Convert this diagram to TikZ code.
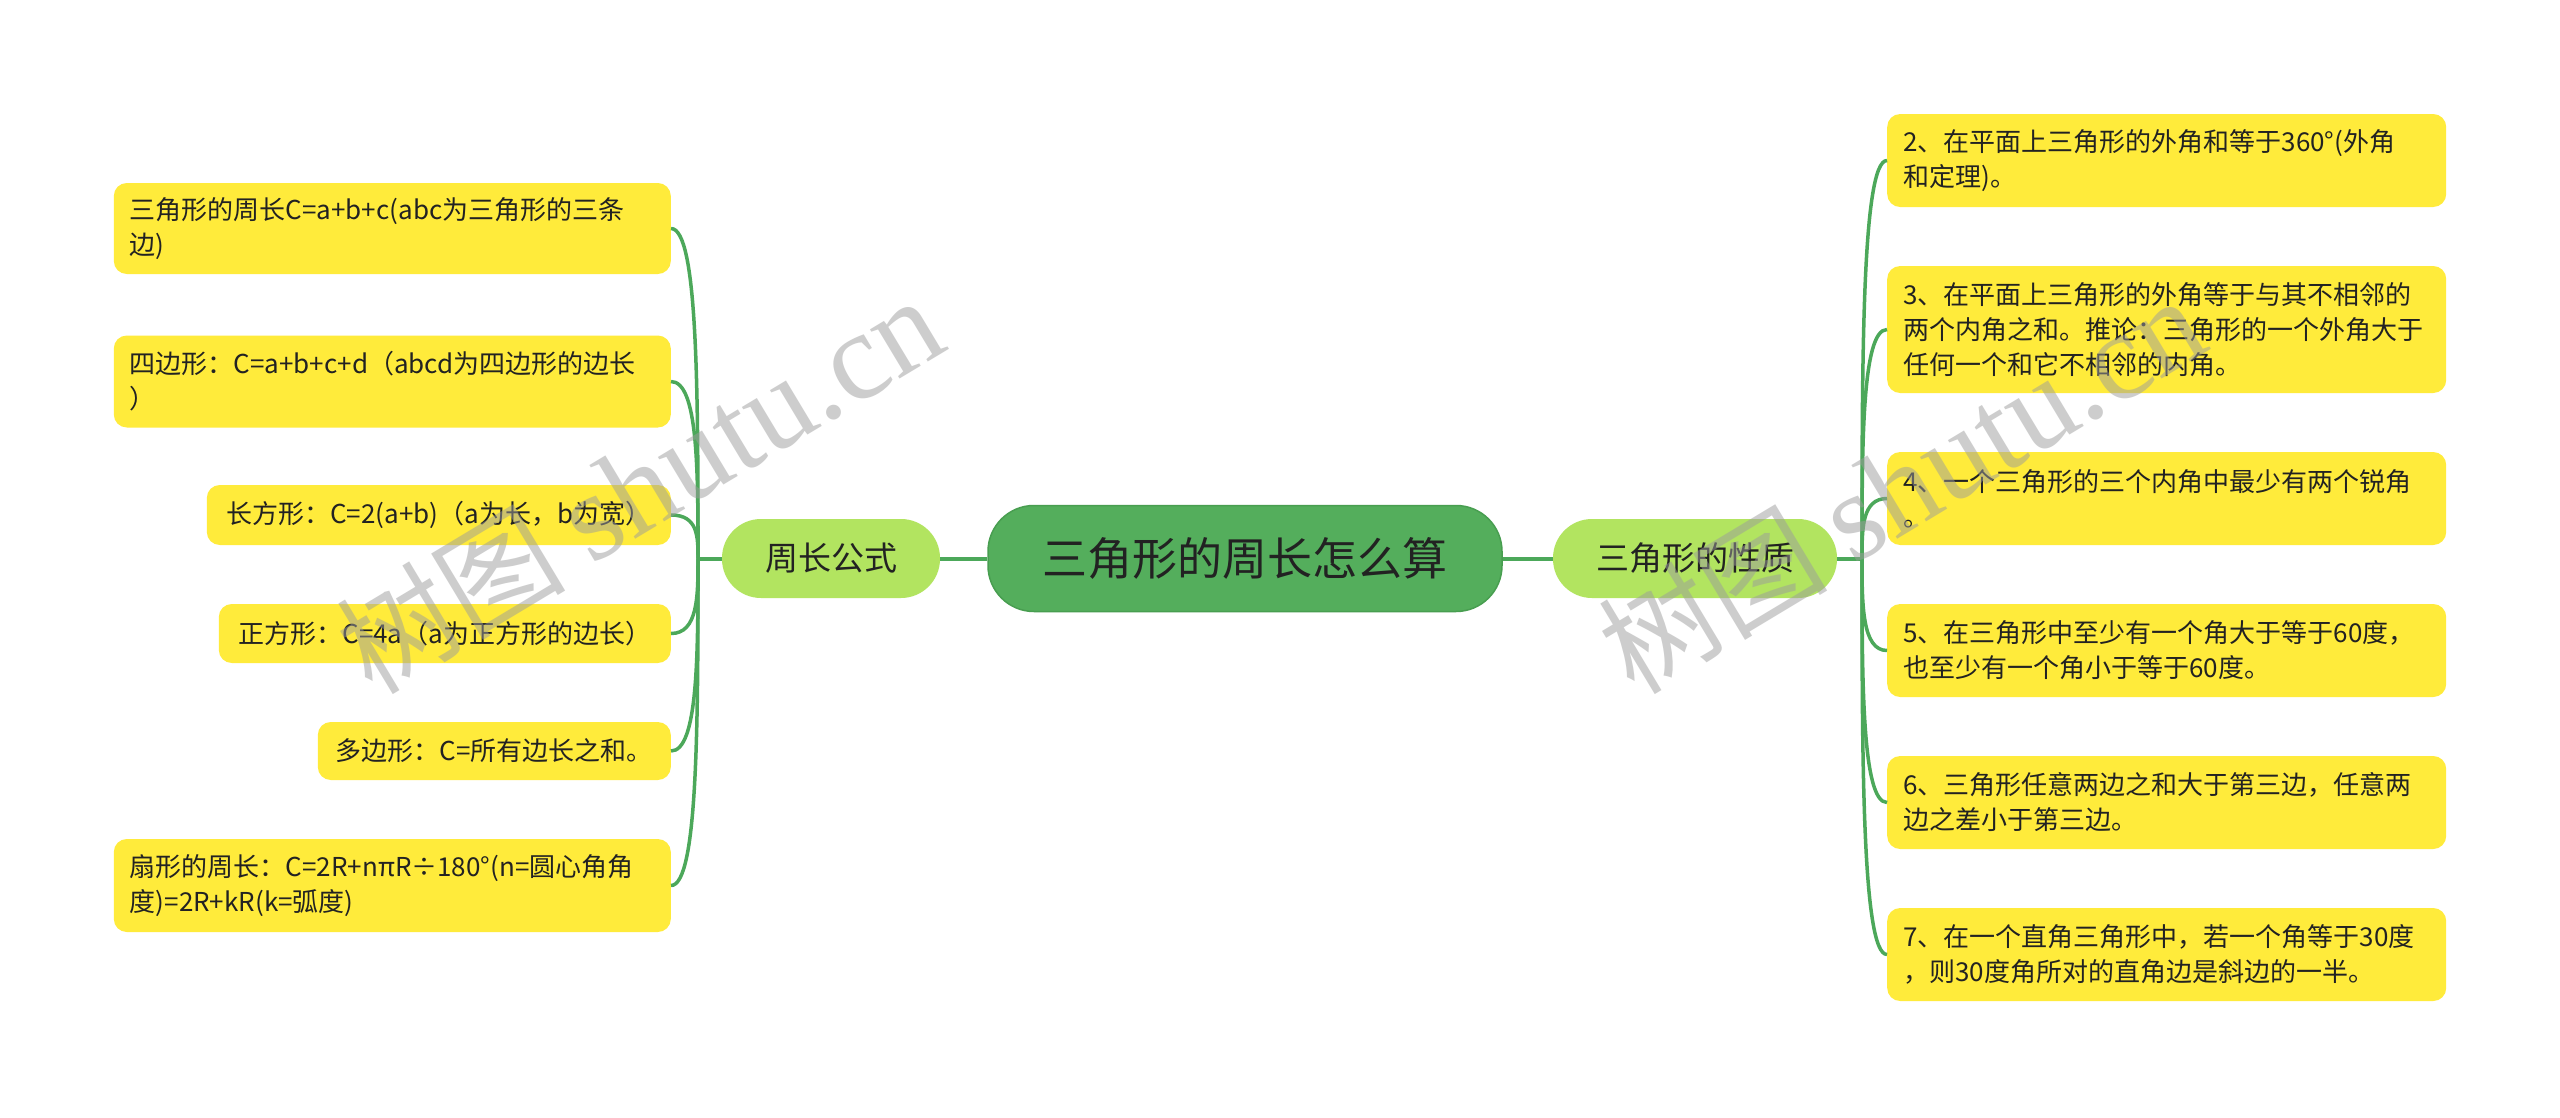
\documentclass[tikz,border=0pt]{standalone}
\usepackage{fontspec}
\newfontfamily\cjk{Noto Sans CJK SC}
\newfontfamily\marca{Liberation Serif}
\usetikzlibrary{calc}
\definecolor{amarillo}{HTML}{FFEB3B}
\definecolor{verderaiz}{HTML}{54AE5C}
\definecolor{bordeaiz}{HTML}{489E50}
\definecolor{verderama}{HTML}{B2E460}
\definecolor{verdelinea}{HTML}{4CA85A}
\definecolor{texto}{HTML}{222222}
\definecolor{gris}{HTML}{9C9C9C}
\tikzset{
	hoja/.style={fill=amarillo, rounded corners=13pt, text=texto, font=\cjk\fontsize{26}{35}\selectfont, align=left, inner xsep=16pt, inner ysep=0pt},
	rama/.style={fill=verderama, rounded corners=39pt, text=texto, font=\cjk\fontsize{33}{40}\selectfont, minimum height=79pt, inner xsep=0pt},
	raiz/.style={fill=verderaiz, draw=bordeaiz, line width=1.5pt, rounded corners=46pt, text=texto, font=\cjk\fontsize{45}{54}\selectfont, minimum height=106pt, minimum width=514pt},
	enlace/.style={draw=verdelinea, line width=4pt},
	marcaagua/.style={text=gris, text opacity=0.5, rotate=31, anchor=base west, inner sep=0pt, font=\cjk\fontsize{115}{115}\selectfont}
}
\begin{document}
\begin{tikzpicture}[x=1pt, y=-1pt]
		% Fondo
			\fill[white] (0,0) rectangle (2560,1117);
			\useasboundingbox (0,0) rectangle (2560,1117);
		% Centro y ramas
			\node[raiz] (raiz) at (1245,558.5) {三角形的周长怎么算};
			\node[rama, minimum width=218pt] (formulas) at (831,558.5) {周长公式};
			\node[rama, minimum width=284pt] (propiedades) at (1695,558.5) {三角形的性质};
			\coordinate (jl) at (698,558.5);
			\coordinate (jr) at (1862,558.5);
		% Hojas
			% Izquierda
				\node[hoja, anchor=east, text width=525pt, minimum height=91pt] (l1) at (671,228.5) {三角形的周长C=a+b+c(abc为三角形的三条\\边)};
				\node[hoja, anchor=east, text width=525pt, minimum height=92pt] (l2) at (671,381.5) {四边形：C=a+b+c+d（abcd为四边形的边长\\）};
				\node[hoja, anchor=east, minimum width=464pt, minimum height=60pt] (l3) at (671,515) {长方形：C=2(a+b)（a为长，b为宽）};
				\node[hoja, anchor=east, minimum width=452pt, minimum height=59pt] (l4) at (671,633.5) {正方形：C=4a（a为正方形的边长）};
				\node[hoja, anchor=east, minimum width=353pt, minimum height=58pt] (l5) at (671,751) {多边形：C=所有边长之和。};
				\node[hoja, anchor=east, text width=525pt, minimum height=93pt] (l6) at (671,885.5) {扇形的周长：C=2R+nπR÷180°(n=圆心角角\\度)=2R+kR(k=弧度)};
			% Derecha
				\node[hoja, anchor=west, text width=527pt, minimum height=93pt] (r1) at (1887,160.5) {2、在平面上三角形的外角和等于360°(外角\\和定理)。};
				\node[hoja, anchor=west, text width=527pt, minimum height=127pt] (r2) at (1887,329.5) {3、在平面上三角形的外角等于与其不相邻的\\两个内角之和。推论：三角形的一个外角大于\\任何一个和它不相邻的内角。};
				\node[hoja, anchor=west, text width=527pt, minimum height=93pt] (r3) at (1887,498.5) {4、一个三角形的三个内角中最少有两个锐角\\。};
				\node[hoja, anchor=west, text width=527pt, minimum height=93pt] (r4) at (1887,650.5) {5、在三角形中至少有一个角大于等于60度，\\也至少有一个角小于等于60度。};
				\node[hoja, anchor=west, text width=527pt, minimum height=93pt] (r5) at (1887,802.5) {6、三角形任意两边之和大于第三边，任意两\\边之差小于第三边。};
				\node[hoja, anchor=west, text width=527pt, minimum height=93pt] (r6) at (1887,954.5) {7、在一个直角三角形中，若一个角等于30度\\，则30度角所对的直角边是斜边的一半。};
		% Enlaces
			\draw[enlace] (raiz) -- (formulas);
			\draw[enlace] (raiz) -- (propiedades);
			\draw[enlace] (formulas.west) -- (jl);
			\draw[enlace] (propiedades.east) -- (jr);
			\foreach \h in {l1,l2,l3,l4,l5,l6}
				\draw[enlace, line width=3.5pt] (jl) .. controls ($(jl)!0.5!(jl |- \h.east)$) and (jl |- \h.east) .. (\h.east);
			\foreach \h in {r1,r2,r3,r4,r5,r6}
				\draw[enlace, line width=3.5pt] (jr) .. controls ($(jr)!0.5!(jr |- \h.west)$) and (jr |- \h.west) .. (\h.west);
		% Marca de agua
			\node[marcaagua] (marca1) at (372,697) {树图 {\marca\fontsize{125}{125}\selectfont shutu.cn}};
			\node[marcaagua] (marca2) at (1634,697) {树图 {\marca\fontsize{125}{125}\selectfont shutu.cn}};
	\end{tikzpicture}
\end{document}
